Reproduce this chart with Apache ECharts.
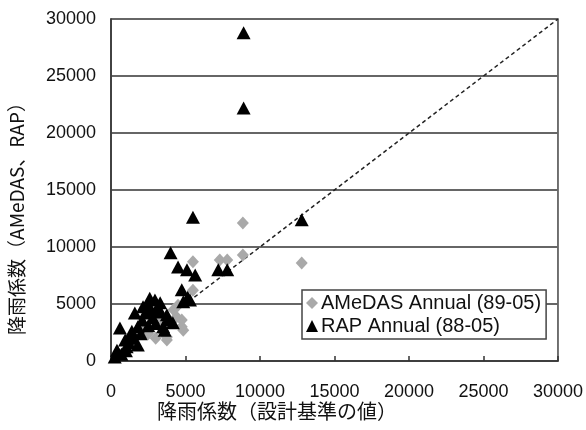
<!DOCTYPE html>
<html>
<head>
<meta charset="utf-8">
<script src="https://cdn.jsdelivr.net/npm/echarts@6/dist/echarts.min.js"></script>
<style>html,body{margin:0;padding:0;background:#fff}#c{width:586px;height:430px}</style>
</head>
<body>
<div id="c"></div>
<script>
// ---- data ----
const xTicks = [0, 5000, 10000, 15000, 20000, 25000, 30000];
const yTicks = [0, 5000, 10000, 15000, 20000, 25000, 30000];
const seriesNames = ['AMeDAS Annual (89-05)', 'RAP Annual (88-05)'];
const xAxisTitle = '降雨係数（設計基準の値）';
const yAxisTitle = '降雨係数（AMeDAS、RAP）';

const amedasPoints = [
  [8850, 12100], [12800, 8600], [5500, 8700], [7300, 8850], [7800, 8850],
  [8850, 9300], [5500, 6200], [4750, 3600], [3750, 2100], [4400, 3850],
  [4500, 4900], [3750, 1850], [4750, 3000], [4850, 2700],
  [2500, 2400], [3000, 2000], [1500, 1500], [800, 700], [2000, 3000],
  [3300, 3500], [4200, 4500], [3500, 2500]
];

const rapPoints = [
  [8900, 28800], [8900, 22200], [12800, 12400], [5500, 12600], [4000, 9500],
  [4500, 8250], [5100, 8000], [5650, 7550], [7200, 8000], [7800, 8000],
  [4750, 6250], [5150, 5600], [5300, 5350], [4850, 5200], [2600, 5500],
  [2950, 5350], [2150, 4750], [3150, 4750], [1600, 4200], [3750, 4050],
  [600, 2900], [1800, 3000], [3500, 3000], [3800, 3600], [1250, 2100],
  [1800, 1400], [450, 800], [1050, 1250], [250, 350], [3600, 2700],
  [4150, 3350], [2500, 4900], [3300, 5100], [2100, 3600], [950, 1850],
  [400, 950], [2800, 3800], [2300, 4200], [3000, 3300], [1400, 2600],
  [2500, 3100], [700, 600], [1000, 900], [1500, 2000], [3300, 4300],
  [2700, 4500], [2000, 2400], [1200, 1600]
];

const refLine = [[0, 0], [30000, 30000]];

// ---- chart ----
const chart = echarts.init(document.getElementById('c'), null, {renderer: 'canvas'});
const tickFont = {fontFamily: 'Liberation Sans', fontSize: 18, color: '#111', formatter: v => String(v)};
chart.setOption({
  animation: false,
  backgroundColor: '#fff',
  grid: {left: 111, right: 28, top: 19, bottom: 69, show: true, borderColor: '#444', borderWidth: 1.5, backgroundColor: 'transparent'},
  xAxis: {
    type: 'value', min: xTicks[0], max: xTicks[xTicks.length - 1], interval: xTicks[1] - xTicks[0],
    axisLine: {show: true, lineStyle: {color: '#333', width: 1.5}},
    axisTick: {show: true, inside: true, length: 5, lineStyle: {color: '#333', width: 1.5}},
    axisLabel: Object.assign({margin: 22}, tickFont),
    splitLine: {show: false}
  },
  yAxis: {
    type: 'value', min: yTicks[0], max: yTicks[yTicks.length - 1], interval: yTicks[1] - yTicks[0],
    axisLine: {show: true, lineStyle: {color: '#333', width: 1.5}},
    axisTick: {show: false},
    axisLabel: Object.assign({margin: 15}, tickFont),
    splitLine: {show: true, lineStyle: {color: '#666', width: 2}}
  },
  legend: {
    orient: 'vertical', left: 302, top: 290,
    backgroundColor: '#fff', borderColor: '#444', borderWidth: 1.5, borderRadius: 0,
    padding: [3, 5, 3, 4], itemGap: 3, itemWidth: 12, itemHeight: 12,
    textStyle: {fontFamily: 'Liberation Sans', fontSize: 20, color: '#111', padding: [0, 0, 0, -2]},
    data: [
      {name: seriesNames[0], icon: 'diamond'},
      {name: seriesNames[1], icon: 'triangle'}
    ]
  },
  graphic: [
    {type: 'text', x: 277, y: 411, style: {text: xAxisTitle, font: '20px "Noto Sans CJK JP"', fill: '#111', textAlign: 'center', textVerticalAlign: 'middle'}},
    {type: 'text', x: 17, y: 214, rotation: Math.PI / 2, style: {text: yAxisTitle, font: '19px "Noto Sans CJK JP"', fill: '#111', textAlign: 'center', textVerticalAlign: 'middle'}}
  ],
  series: [
    {
      type: 'line', name: 'ref', data: refLine, symbol: 'none', silent: true,
      lineStyle: {color: '#222', width: 1.5, type: [4, 3]}, z: 1
    },
    {
      type: 'scatter', name: seriesNames[0], data: amedasPoints, symbol: 'diamond', symbolSize: [12, 13],
      itemStyle: {color: '#a9a9a9', opacity: 1}, z: 2
    },
    {
      type: 'scatter', name: seriesNames[1], data: rapPoints, symbol: 'triangle', symbolSize: [14, 13],
      itemStyle: {color: '#000', opacity: 1}, z: 3
    }
  ]
});
</script>
</body>
</html>
